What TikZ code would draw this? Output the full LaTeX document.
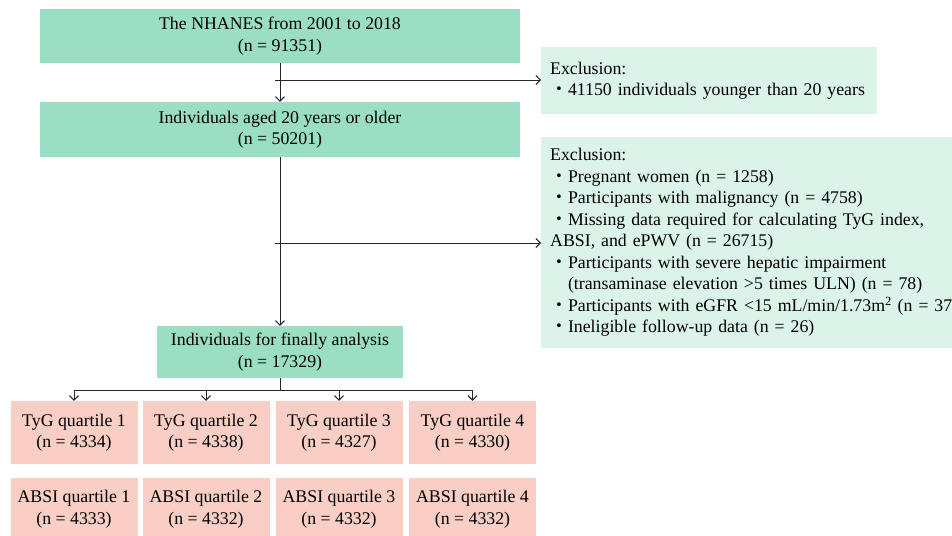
\documentclass[tikz,border=0pt]{standalone}
\usepackage{fontspec}
\setmainfont{Liberation Serif}
\newfontfamily\cjk{Noto Sans CJK SC}
\usetikzlibrary{arrows,arrows.meta,positioning}
\usepackage{xcolor}
\definecolor{mintgreen}{HTML}{9ADFC3}
\definecolor{palemint}{HTML}{DCF3EA}
\definecolor{salmonpink}{HTML}{F8CEC5}
\newcommand{\bul}{{\cjk ・}}

\begin{document}
\begin{tikzpicture}[x=1pt, y=-1pt,
    every node/.style={
        rectangle,
        inner sep=0pt,
        align=center,
        font=\fontsize{17.8}{21.5}\selectfont
    },
    mainbox/.style={fill=mintgreen, minimum height=54pt},
    exclbox/.style={fill=palemint, anchor=north west, align=left, inner xsep=9pt},
    quartbox/.style={fill=salmonpink, minimum width=127pt, minimum height=63pt},
    link/.style={-{Straight Barb[length=4.5pt, width=9pt]}, line width=1pt, black!85}
]
    \useasboundingbox (0,0) rectangle (952,535);
    \clip (0,0) rectangle (952,535);

    \node (nhanes) [mainbox, minimum width=480pt] at (280, 36)
    {
        The NHANES from 2001 to 2018\\(n = 91351)
    };
    \node (aged) [mainbox, minimum width=480pt, minimum height=55pt] at (280, 129.5)
    {
        Individuals aged 20 years or older\\(n = 50201)
    };
    \node (final) [mainbox, minimum width=246pt, minimum height=52pt] at (280, 352)
    {
        Individuals for finally analysis\\(n = 17329)
    };

    \node (excl_age) [exclbox, minimum height=67pt, text width=318pt] at (541, 47)
    {
        Exclusion:\\
        \bul41150 individuals younger than 20 years
    };
    \node (excl_other) [exclbox, minimum height=211pt, text width=440pt] at (541, 137)
    {
        Exclusion:\\
        \bul Pregnant women (n = 1258)\\
        \bul Participants with malignancy (n = 4758)\\
        \bul Missing data required for calculating TyG index,\\
        ABSI, and ePWV (n = 26715)\\
        \bul Participants with severe hepatic impairment\\
        \phantom{\bul}(transaminase elevation >5 times ULN) (n = 78)\\
        \bul Participants with eGFR <15 mL/min/1.73m\textsuperscript{2} (n = 37)\\
        \bul Ineligible follow-up data (n = 26)
    };

    \node (tyg_q1) [quartbox] at (74, 432.5) {TyG quartile 1\\(n = 4334)};
    \node (tyg_q2) [quartbox] at (206, 432.5) {TyG quartile 2\\(n = 4338)};
    \node (tyg_q3) [quartbox] at (339, 432.5) {TyG quartile 3\\(n = 4327)};
    \node (tyg_q4) [quartbox] at (472.5, 432.5) {TyG quartile 4\\(n = 4330)};

    \node (absi_q1) [quartbox] at (74, 509) {ABSI quartile 1\\(n = 4333)};
    \node (absi_q2) [quartbox] at (206, 509) {ABSI quartile 2\\(n = 4332)};
    \node (absi_q3) [quartbox] at (339, 509) {ABSI quartile 3\\(n = 4332)};
    \node (absi_q4) [quartbox] at (472.5, 509) {ABSI quartile 4\\(n = 4332)};

    % main flow
    \draw[link] (nhanes) to (aged);
    \draw[link] (aged) to (final);

    % exclusions
    \coordinate (split_age) at (275, 80);
    \coordinate (split_other) at (275, 243);
    \draw[link] (split_age) to (split_age -| excl_age.west);
    \draw[link] (split_other) to (split_other -| excl_other.west);

    % quartiles
    \coordinate (bus) at (280, 390);
    \draw[line width=1pt, black!85] (final.south) to (bus);
    \draw[line width=1pt, black!85] (bus -| tyg_q1) to (bus -| tyg_q4);
    \draw[link] (bus -| tyg_q1) to (tyg_q1);
    \draw[link] (bus -| tyg_q2) to (tyg_q2);
    \draw[link] (bus -| tyg_q3) to (tyg_q3);
    \draw[link] (bus -| tyg_q4) to (tyg_q4);
\end{tikzpicture}
\end{document}
